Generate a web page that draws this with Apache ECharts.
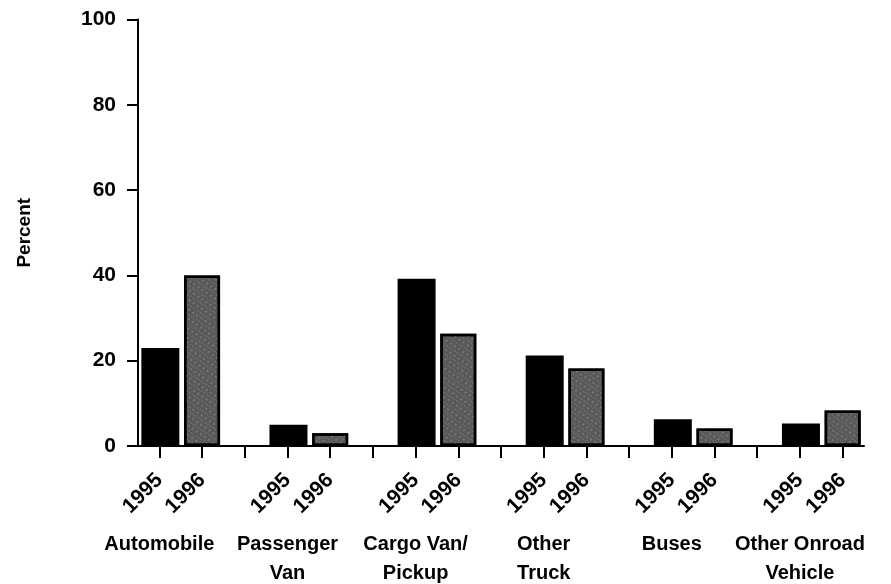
<!DOCTYPE html>
<html>
<head>
<meta charset="utf-8">
<script src="https://cdn.jsdelivr.net/npm/echarts@6/dist/echarts.min.js"></script>
<style>
html,body{margin:0;padding:0;background:#fff;}
#chart{width:891px;height:584px;}
</style>
</head>
<body>
<div id="chart"></div>
<script>
const categories = ['Automobile', 'Passenger\nVan', 'Cargo Van/\nPickup', 'Other\nTruck', 'Buses', 'Other Onroad\nVehicle'];
const years = ['1995', '1996'];
const values1995 = [23, 5, 39.2, 21.2, 6.3, 5.3];
const values1996 = [40, 3, 26.3, 18.2, 4.1, 8.3];
const yTicks = [0, 20, 40, 60, 80, 100];

// build slots: 1995, 1996, gap, ...
const slots = [];
const slotGroup = [];
const d1995 = [];
const d1996 = [];
categories.forEach((c, g) => {
  slots.push(years[0]); slotGroup.push(g); d1995.push(values1995[g]); d1996.push('-');
  slots.push(years[1]); slotGroup.push(-1); d1995.push('-'); d1996.push(values1996[g]);
  if (g < categories.length - 1) {
    slots.push(''); slotGroup.push(-1); d1995.push('-'); d1996.push('-');
  }
});

const FONT = "'Liberation Sans', Arial, Helvetica, sans-serif";
const chart = echarts.init(document.getElementById('chart'));
chart.setOption({
  animation: false,
  backgroundColor: '#fff',
  grid: { left: 138, top: 19.5, width: 726, height: 426.5, containLabel: false, outerBoundsMode: 'none' },
  xAxis: [
    {
      type: 'category',
      data: slots,
      axisLine: { lineStyle: { color: '#000', width: 2 } },
      axisTick: { show: true, alignWithLabel: true, length: 12, interval: 0, lineStyle: { color: '#000', width: 2 } },
      axisLabel: {
        interval: 0, rotate: 45, margin: 31,
        color: '#000', fontFamily: FONT, fontWeight: 'bold', fontSize: 21
      }
    },
    {
      type: 'category',
      data: slots,
      position: 'bottom',
      axisLine: { show: false },
      axisTick: { show: false },
      axisLabel: {
        interval: 0, margin: 84,
        color: '#000', fontFamily: FONT, fontWeight: 'bold', fontSize: 20, lineHeight: 29,
        formatter: function (v, i) { return slotGroup[i] >= 0 ? categories[slotGroup[i]] : ''; }
      }
    }
  ],
  yAxis: {
    type: 'value', min: yTicks[0], max: yTicks[yTicks.length - 1], interval: 20,
    name: 'Percent', nameLocation: 'middle', nameRotate: 90, nameGap: 104,
    nameTextStyle: { color: '#000', fontFamily: FONT, fontWeight: 'bold', fontSize: 19 },
    axisLine: { show: true, lineStyle: { color: '#000', width: 2 } },
    axisTick: { show: true, length: 11, lineStyle: { color: '#000', width: 2 } },
    splitLine: { show: false },
    axisLabel: { margin: 22, color: '#000', fontFamily: FONT, fontWeight: 'bold', fontSize: 21 }
  },
  series: [
    {
      name: years[0], type: 'bar', data: d1995, barWidth: 38, barGap: '-100%',
      itemStyle: { color: '#000' }
    },
    {
      name: years[1], type: 'bar', data: d1996, barWidth: 36, barGap: '-100%',
      itemStyle: {
        color: '#585858', borderColor: '#000', borderWidth: 2.5,
        decal: {
          symbol: 'rect', symbolSize: 0.6, color: 'rgba(255,255,255,0.6)',
          dashArrayX: [[2, 3], [1, 2]], dashArrayY: [2, 2], rotation: 0.6
        }
      }
    }
  ]
});
</script>
</body>
</html>
